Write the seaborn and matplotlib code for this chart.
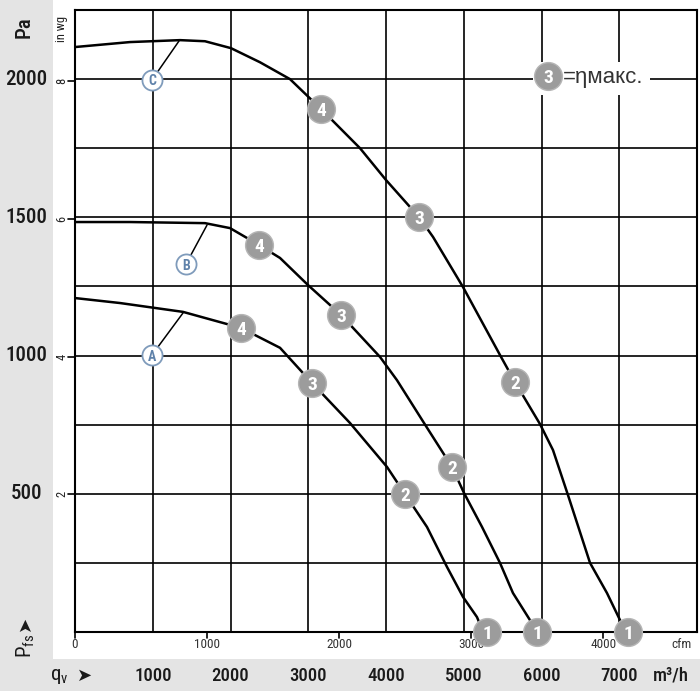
import numpy as np
import pandas as pd
import matplotlib
matplotlib.use("Agg")
import matplotlib.pyplot as plt
import seaborn as sns
from matplotlib import font_manager
from matplotlib.patches import Rectangle

# ---------------- data (m3/h, Pa) ----------------
curve_a_q = [0, 579, 1389, 2135, 2637, 3048, 3537, 4013, 4244, 4527, 4785, 4990, 5170, 5250]
curve_a_p = [1208, 1190, 1158, 1100, 1028, 901, 756, 597, 499, 380, 235, 127, 54, 0]

curve_b_q = [0, 707, 1672, 1994, 2367, 2637, 2997, 3421, 3923, 4141, 4489, 4849, 5003, 5235, 5466, 5633, 5852, 5916]
curve_b_p = [1483, 1483, 1479, 1461, 1400, 1353, 1255, 1147, 995, 911, 756, 597, 503, 380, 250, 141, 43, 0]

curve_c_q = [0, 707, 1350, 1672, 2006, 2379, 2765, 3164, 3666, 4000, 4424, 4605, 4990, 5466, 5659, 5981, 6148, 6341, 6624, 6842, 7010, 7061]
curve_c_p = [2116, 2134, 2141, 2137, 2112, 2061, 2000, 1892, 1750, 1635, 1501, 1429, 1248, 1002, 904, 752, 658, 495, 250, 141, 43, 0]

# operating point markers (label 1..4)
mark_labels = ["1", "2", "3", "4"]
mark_a_q = [5299, 4244, 3048, 2135]
mark_a_p = [0, 499, 901, 1100]
mark_b_q = [5942, 4849, 3421, 2367]
mark_b_p = [0, 597, 1147, 1400]
mark_c_q = [7113, 5659, 4424, 3164]
mark_c_p = [0, 904, 1501, 1892]

# curve letter tags
tag_names = ["A", "B", "C"]
tag_q = [990, 1428, 990]
tag_p = [1002, 1331, 1997]
tag_end_q = [1389, 1698, 1338]
tag_end_p = [1154, 1472, 2138]

# axes tick values
m3h_ticks = [1000, 2000, 3000, 4000, 5000, 6000, 7000]
pa_ticks = [500, 1000, 1500, 2000]
inwg_ticks = [2, 4, 6, 8]
cfm_ticks = [0, 1000, 2000, 3000, 4000]
PA_PER_INWG = 249.089
M3H_PER_CFM = 1.699

# ---------------- style ----------------
sns.set_theme(style="white")
def has_font(name):
    try:
        font_manager.findfont(font_manager.FontProperties(family=name), fallback_to_default=False)
        return True
    except Exception:
        return False

COND = "Liberation Sans"
for cand in ["Roboto Condensed", "Archivo Narrow", "Barlow Semi Condensed", "Liberation Sans Narrow"]:
    if has_font(cand):
        COND = cand
        break
plt.rcParams["font.family"] = [COND, "DejaVu Sans"]
plt.rcParams["mathtext.fontset"] = "custom"
plt.rcParams["mathtext.rm"] = COND
plt.rcParams["mathtext.it"] = COND
plt.rcParams["mathtext.bf"] = COND + ":bold"

W = H = 700
fig = plt.figure(figsize=(7, 7), dpi=100)
fig.patch.set_facecolor("white")

band = "#e4e4e4"
fig.patches.append(Rectangle((0, 1 - 659 / H), 53 / W, 659 / H, transform=fig.transFigure,
                             facecolor=band, edgecolor="none", zorder=-10))
fig.patches.append(Rectangle((0, 1 - 691 / H), 1, 32 / H, transform=fig.transFigure,
                             facecolor=band, edgecolor="none", zorder=-10))

ax = fig.add_axes([75 / W, 68 / H, 622 / W, 622 / H])
ax.set_facecolor("white")
ax.set_xlim(0, 8000)
ax.set_ylim(0, 2250)
ax.set_xticks(np.arange(0, 8001, 1000))
ax.set_yticks(np.arange(0, 2251, 250))
ax.grid(True, color="black", lw=1.2, zorder=1)
ax.set_axisbelow(True)
ax.tick_params(labelbottom=False, labelleft=False, length=0)
for s in ax.spines.values():
    s.set_color("black")
    s.set_linewidth(1.5)

# white box behind legend
ax.add_patch(Rectangle(((533 - 75) / 622, (632 - 95) / 622), 117 / 622, 33 / 622,
                       transform=ax.transAxes, facecolor="white", edgecolor="none", zorder=1.5))

# curves
for q, p in [(curve_a_q, curve_a_p), (curve_b_q, curve_b_p), (curve_c_q, curve_c_p)]:
    df = pd.DataFrame({"q": q, "p": p})
    sns.lineplot(data=df, x="q", y="p", sort=False, estimator=None, color="black", lw=1.8, ax=ax, zorder=3)

# leader lines + letter tags
for n, tq, tp, eq, ep in zip(tag_names, tag_q, tag_p, tag_end_q, tag_end_p):
    ax.plot([tq, eq], [tp, ep], color="black", lw=1.1, zorder=2.5)
tagdf = pd.DataFrame({"q": tag_q, "p": tag_p})
sns.scatterplot(data=tagdf, x="q", y="p", s=210, color="white", edgecolor="#7f9bbb",
                linewidth=1.3, ax=ax, zorder=4)
for n, tq, tp in zip(tag_names, tag_q, tag_p):
    ax.text(tq, tp, n, color="#5f82aa", fontsize=10, fontweight="bold", ha="center",
            va="center_baseline", zorder=5)

# numbered operating points
for mq, mp in [(mark_a_q, mark_a_p), (mark_b_q, mark_b_p), (mark_c_q, mark_c_p)]:
    mdf = pd.DataFrame({"q": mq, "p": mp})
    sns.scatterplot(data=mdf, x="q", y="p", s=400, color="#9c9c9c", edgecolor="#b5b5b5",
                    linewidth=1.0, ax=ax, zorder=6)
    for lab, q, p in zip(mark_labels, mq, mp):
        ax.text(q, p, lab, color="white", fontsize=14, fontweight="bold", ha="center",
                va="center_baseline", zorder=7, clip_on=False)
for coll in ax.collections:
    coll.set_clip_on(False)
ax.set_xlabel("")
ax.set_ylabel("")

# legend
ax.scatter([(548 - 75) / 622], [(632 - 76) / 622], s=400, color="#9c9c9c", edgecolor="#b5b5b5",
           linewidth=1.0, transform=ax.transAxes, zorder=6, clip_on=False)
ax.text((548 - 75) / 622, (632 - 76) / 622, "3", color="white", fontsize=14, fontweight="bold",
        ha="center", va="center_baseline", transform=ax.transAxes, zorder=7)
ax.text((563 - 75) / 622, (632 - 78) / 622, "=ηмакс.", color="#333333", fontsize=16,
        family=["Liberation Sans", "DejaVu Sans"], ha="left", va="center", transform=ax.transAxes, zorder=7)

# left Pa labels
ytr = ax.get_yaxis_transform()
for p in pa_ticks:
    ax.text((26 - 75) / 622, p, str(p), fontsize=15, fontweight="medium", ha="center", va="center",
            transform=ytr, color="#1a1a1a", clip_on=False)
# in wg ticks
for w in inwg_ticks:
    pv = w * PA_PER_INWG
    ax.plot([(68 - 75) / 622, 0], [pv, pv], color="black", lw=1.2, transform=ytr, clip_on=False)
    ax.text((62 - 75) / 622, pv, str(w), fontsize=9, rotation=90, ha="center", va="center",
            transform=ytr, color="#222222", clip_on=False)

# cfm ticks
xtr = ax.get_xaxis_transform()
for c in cfm_ticks:
    qv = c * M3H_PER_CFM
    ax.plot([qv, qv], [0, -6 / 622], color="black", lw=1.2, transform=xtr, clip_on=False)
    ax.text(qv, -13 / 622, str(c), fontsize=9.5, ha="center", va="center", transform=xtr,
            color="#333333", clip_on=False)
ax.text((682 - 75) / 622 * 8000, -13 / 622, "cfm", fontsize=9.5, ha="center", va="center",
        transform=xtr, color="#333333", clip_on=False)

# bottom m3/h labels
for q in m3h_ticks:
    ax.text(q, -44 / 622, str(q), fontsize=13.5, fontweight="medium", ha="center", va="center",
            transform=xtr, color="#1a1a1a", clip_on=False)
ax.text((671 - 75) / 622 * 8000, -44 / 622, "m³/h", fontsize=13.5, fontweight="medium", ha="center",
        va="center", transform=xtr, color="#1a1a1a", clip_on=False)

# figure-level labels
fig.text(24 / W, 1 - 27 / H, "Pa", fontsize=15, fontweight="medium", rotation=90, ha="center",
         va="center", color="#1a1a1a")
fig.text(62 / W, 1 - 29 / H, "in wg", fontsize=9, rotation=90, ha="center", va="center", color="#222222")
fig.text(26 / W, 1 - 646 / H, r"$\mathregular{P_{fs}}$", fontsize=15, rotation=90, ha="center",
         va="center", color="#1a1a1a")
fig.text(25 / W, 1 - 623 / H, "➤", fontsize=13, rotation=90, ha="center", va="center", color="#1a1a1a",
         family=["DejaVu Sans"])
fig.text(59 / W, 1 - 676 / H, r"$\mathregular{q_{v}}$", fontsize=15, ha="center", va="center", color="#1a1a1a")
fig.text(85 / W, 1 - 676 / H, "➤", fontsize=13, ha="center", va="center", color="#1a1a1a",
         family=["DejaVu Sans"])

fig.savefig("out.png", dpi=100)
